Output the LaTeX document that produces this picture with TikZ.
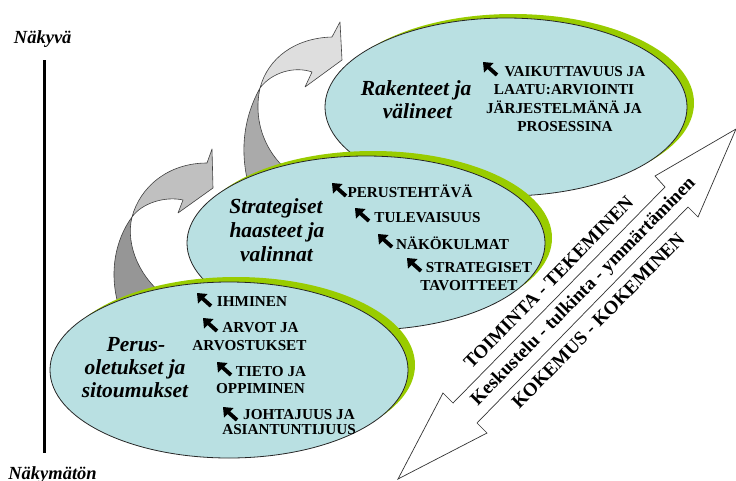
\documentclass[tikz,border=0pt]{standalone}
\usepackage{fontspec}
\setmainfont{Liberation Serif}
\definecolor{ellfill}{RGB}{185,224,226}
\definecolor{ellgreen}{RGB}{153,204,0}
\definecolor{arrlightA}{RGB}{222,222,222}
\definecolor{arrdarkA}{RGB}{170,170,170}
\definecolor{arrlightB}{RGB}{192,192,192}
\definecolor{arrdarkB}{RGB}{150,150,150}
\begin{document}
\begin{tikzpicture}[x=1pt,y=-1pt,
  ellb/.style={fill=ellfill, draw=black!85, line width=0.8pt},
  ellg/.style={fill=ellgreen},
  lbl/.style={font=\fontsize{21.5}{23}\selectfont\bfseries\itshape, inner sep=0pt, anchor=base},
  itm/.style={font=\fontsize{15.2}{16}\selectfont\bfseries, inner sep=0pt, anchor=base},
  diag/.style={font=\fontsize{19}{20}\selectfont\bfseries, inner sep=0pt, anchor=base, rotate=45.5},
  side/.style={font=\fontsize{18.5}{19}\selectfont\bfseries\itshape, inner sep=0pt, anchor=base},
  arrline/.style={draw=black!75, line width=0.6pt, line join=round},
  nwarrow/.pic={\fill (0,0) -- (10.5,1) -- (1,10.5) -- cycle; \draw[line width=3.8pt] (4.5,4.5) -- (14,13);}
]
\useasboundingbox (0,0) rectangle (736,480);

% side axis
\draw[line width=3pt] (44,60) -- (44,453);
\node[side] (vis) at (42.7,43.3) {Näkyvä};
\node[side] (invis) at (52.5,479.5) {Näkymätön};

% upper curved arrow
\filldraw[arrline, fill=arrdarkA] (260,88) .. controls (245,115) and (238,150) .. (250,190)
  -- (300,180) .. controls (268,160) and (252,125) .. (260,88) -- cycle;
\filldraw[arrline, fill=arrlightA] (260,88) .. controls (268,58) and (295,38) .. (332,37)
  -- (340,22) -- (342,60) -- (305,87) -- (312,72)
  .. controls (295,66) and (272,72) .. (260,88) -- cycle;

% lower curved arrow
\filldraw[arrline, fill=arrdarkB] (132,217) .. controls (115,240) and (108,275) .. (120,310)
  -- (170,300) .. controls (140,280) and (125,245) .. (132,217) -- cycle;
\filldraw[arrline, fill=arrlightB] (132,217) .. controls (140,187) and (168,163) .. (207,163)
  -- (212,149) -- (213,188) -- (178,213) -- (183,200)
  .. controls (165,196) and (142,203) .. (132,217) -- cycle;

% ellipses
\fill[ellg] (513,103) ellipse [x radius=181pt, y radius=89pt];
\draw[ellb] (506,107) ellipse [x radius=181pt, y radius=89pt];
\fill[ellg] (373,238) ellipse [x radius=179pt, y radius=87pt];
\draw[ellb] (366,243) ellipse [x radius=179pt, y radius=87pt];
\fill[ellg] (236,365) ellipse [x radius=179pt, y radius=88pt];
\draw[ellb] (229,370) ellipse [x radius=179pt, y radius=88pt];

% double arrow
\filldraw[draw=black!80, line width=0.7pt, fill=white, line join=miter]
  (736,129) -- (655,176) -- (665,187) -- (453,403) -- (443,393) -- (398,479)
  -- (487,433) -- (477,423) -- (688,207) -- (698,217) -- cycle;
\node[diag] (toim) at (553,287) {TOIMINTA - TEKEMINEN};
\node[diag] (kesk) at (587,295) {Keskustelu - tulkinta - ymmärtäminen};
\node[diag] (koke) at (602.5,325) {KOKEMUS - KOKEMINEN};

% top ellipse text
\node[lbl] (t1) at (416,95) {Rakenteet ja};
\node[lbl] (t2) at (417.5,118) {välineet};
\pic at (483,62) {nwarrow};
\node[itm] (ta) at (575,76) {VAIKUTTAVUUS JA};
\node[itm] (tb) at (564,94.5) {LAATU:ARVIOINTI};
\node[itm] (tc) at (564,113) {JÄRJESTELMÄNÄ JA};
\node[itm] (td) at (565,131) {PROSESSINA};

% middle ellipse text
\node[lbl] (m1) at (276,213) {Strategiset};
\node[lbl] (m2) at (277,237) {haasteet ja};
\node[lbl] (m3) at (276.5,261) {valinnat};
\pic at (332,183) {nwarrow};
\node[itm] (ma) at (410,197) {PERUSTEHTÄVÄ};
\pic at (355,208) {nwarrow};
\node[itm] (mb) at (427.5,222) {TULEVAISUUS};
\pic at (378,234) {nwarrow};
\node[itm] (mc) at (452.5,249) {NÄKÖKULMAT};
\pic at (407,258) {nwarrow};
\node[itm] (md) at (479,272) {STRATEGISET};
\node[itm] (me) at (469,290) {TAVOITTEET};

% bottom ellipse text
\node[lbl] (b1) at (136,351) {Perus-};
\node[lbl] (b2) at (135,374) {oletukset ja};
\node[lbl] (b3) at (135,397) {sitoumukset};
\pic at (197,293) {nwarrow};
\node[itm] (ba) at (252,306) {IHMINEN};
\pic at (203,318) {nwarrow};
\node[itm] (bb) at (260.5,332) {ARVOT JA};
\node[itm] (bc) at (249.5,350) {ARVOSTUKSET};
\pic at (217,362) {nwarrow};
\node[itm] (bd) at (271,376) {TIETO JA};
\node[itm] (be) at (260.5,393) {OPPIMINEN};
\pic at (223,407) {nwarrow};
\node[itm] (bf) at (299,419) {JOHTAJUUS JA};
\node[itm] (bg) at (289,434) {ASIANTUNTIJUUS};
\end{tikzpicture}
\end{document}
